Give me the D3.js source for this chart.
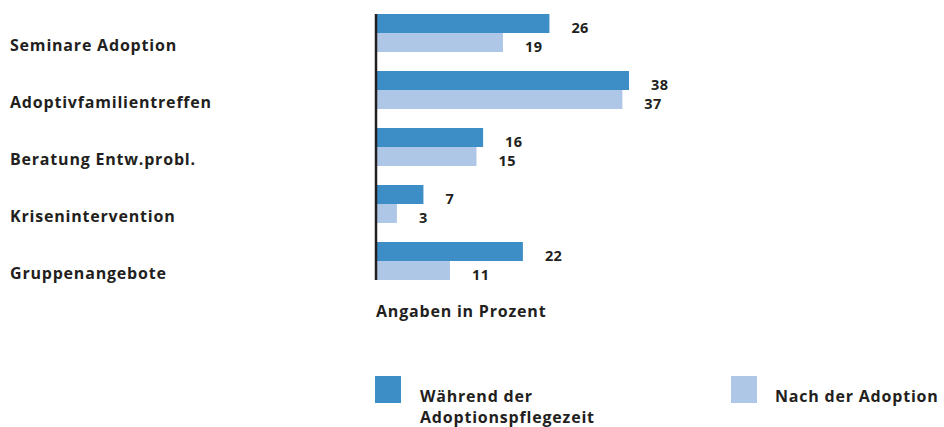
<!DOCTYPE html>
<html>
<head>
<meta charset="utf-8">
<script src="https://cdn.jsdelivr.net/npm/d3@7"></script>
<style>
  body { margin: 0; background: #fff; }
  text { font-family: "Open Sans", "Noto Sans", sans-serif; font-weight: bold; fill: #231f20; }
</style>
</head>
<body>
<svg id="chart" width="944" height="427"></svg>
<script>
// values in percent
const categories = ['Seminare Adoption', 'Adoptivfamilientreffen', 'Beratung Entw.probl.', 'Krisenintervention', 'Gruppenangebote'];
const during = [26, 38, 16, 7, 22];
const after = [19, 37, 15, 3, 11];
const seriesNames = ['Während der Adoptionspflegezeit', 'Nach der Adoption'];
const colors = ['#3d8dc7', '#afc7e6'];
const axisTitle = 'Angaben in Prozent';

const svg = d3.select('#chart');
const left = 377;

const x = d3.scaleLinear().domain([0, 38]).range([left, 629]);
const y = d3.scaleBand().domain(categories).range([14, 280]).paddingInner(1 / 3).paddingOuter(0);
const sub = d3.scaleBand().domain([0, 1]).range([0, y.bandwidth()]);

const groups = svg.selectAll('g.grp')
  .data(categories)
  .enter().append('g')
  .attr('class', 'grp')
  .attr('transform', d => `translate(0,${y(d)})`);

[during, after].forEach((vals, s) => {
  groups.append('rect')
    .attr('x', left)
    .attr('y', sub(s))
    .attr('width', (d, i) => x(vals[i]) - left)
    .attr('height', sub.bandwidth())
    .attr('fill', colors[s]);
  groups.append('text')
    .attr('x', (d, i) => x(vals[i]) + 22)
    .attr('y', sub(s) + sub.bandwidth() / 2 + 9.5)
    .attr('font-size', 14.5)
    .attr('letter-spacing', 0.4)
    .text((d, i) => vals[i]);
});

// category labels
groups.append('text')
  .attr('x', 10)
  .attr('y', y.bandwidth() / 2 + 17.5)
  .attr('font-size', 16)
  .attr('letter-spacing', 0.8)
  .text(d => d);

// axis line
svg.append('line')
  .attr('x1', 376).attr('x2', 376)
  .attr('y1', y.range()[0]).attr('y2', y(categories[4]) + y.bandwidth())
  .attr('stroke', '#231f20')
  .attr('stroke-width', 2.5);

svg.append('text')
  .attr('x', 376).attr('y', 317)
  .attr('font-size', 16)
  .attr('letter-spacing', 0.8)
  .text(axisTitle);

// legend
const legend = [
  { x: 375, tx: 420, lines: ['Während der', 'Adoptionspflegezeit'] },
  { x: 731, tx: 775, lines: ['Nach der Adoption'] }
];
legend.forEach((l, i) => {
  svg.append('rect')
    .attr('x', l.x).attr('y', 376)
    .attr('width', 26).attr('height', 27)
    .attr('fill', colors[i]);
  l.lines.forEach((t, j) => {
    svg.append('text')
      .attr('x', l.tx).attr('y', 402 + j * 21)
      .attr('font-size', 16)
      .attr('letter-spacing', 0.8)
      .text(t);
  });
});
</script>
</body>
</html>
